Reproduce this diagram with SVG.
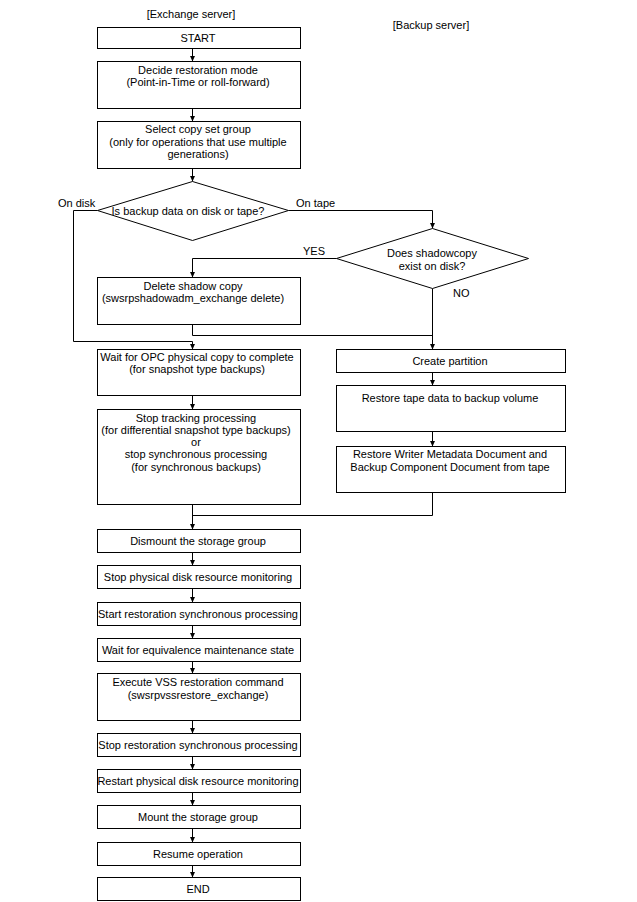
<svg xmlns="http://www.w3.org/2000/svg" width="637" height="902" viewBox="0 0 637 902">
<style>
.box{fill:#fff;stroke:#000;stroke-width:1}
.t{font-family:"Liberation Sans",Arial,sans-serif;font-size:11px;fill:#000;text-anchor:middle}
.ts{font-family:"Liberation Sans",Arial,sans-serif;font-size:11px;fill:#000}
.c{fill:none;stroke:#000;stroke-width:1}
.a{marker-end:url(#arr)}
</style>
<defs>
<marker id="arr" markerUnits="userSpaceOnUse" markerWidth="6" markerHeight="6" viewBox="0 0 6 6" refX="6" refY="3" orient="auto">
<path d="M0,0.3 L6,3 L0,5.7 z" fill="#000"/>
</marker>
</defs>
<rect width="637" height="902" fill="#fff"/>
<text class="t" x="191" y="18">[Exchange server]</text>
<text class="t" x="431" y="29">[Backup server]</text>

<g id="connectors">
<path class="c a" d="M192.5,48.5 V61.5"/>
<path class="c a" d="M192.5,108.5 V121.5"/>
<path class="c a" d="M192.5,168.5 V181.5"/>
<path class="c a" d="M97.5,210.5 H73.5 V341.5 H192.5 V349.5"/>
<path class="c a" d="M288.5,210.5 H432.5 V228.5"/>
<path class="c a" d="M336.5,258.5 H192.5 V277.5"/>
<path class="c" d="M192.5,324.5 V335.5 H432.5"/>
<path class="c a" d="M432.5,288.5 V349.5"/>
<path class="c a" d="M192.5,395.5 V409.5"/>
<path class="c a" d="M432.5,372.5 V385.5"/>
<path class="c a" d="M432.5,431.5 V446.5"/>
<path class="c" d="M432.5,492.5 V515.5 H192.5"/>
<path class="c a" d="M192.5,504.5 V529.5"/>
<path class="c a" d="M192.5,552.5 V565.5"/>
<path class="c a" d="M192.5,588.5 V602.5"/>
<path class="c a" d="M192.5,625.5 V638.5"/>
<path class="c a" d="M192.5,661.5 V673.5"/>
<path class="c a" d="M192.5,720.5 V733.5"/>
<path class="c a" d="M192.5,756.5 V769.5"/>
<path class="c a" d="M192.5,792.5 V805.5"/>
<path class="c a" d="M192.5,828.5 V842.5"/>
<path class="c a" d="M192.5,865.5 V877.5"/>
<text class="ts" x="58" y="207">On disk</text>
<text class="ts" x="296" y="207">On tape</text>
<text class="ts" x="303" y="255">YES</text>
<text class="ts" x="453" y="297">NO</text>
</g>

<g id="start"><rect class="box" x="97.5" y="27.5" width="203" height="21"/><text class="t" x="198" y="42">START</text></g>
<g id="decide"><rect class="box" x="97.5" y="61.5" width="203" height="47"/><text class="t" x="198" y="74">Decide restoration mode</text><text class="t" x="198" y="86">(Point-in-Time or roll-forward)</text></g>
<g id="select"><rect class="box" x="97.5" y="121.5" width="203" height="47"/><text class="t" x="198" y="133">Select copy set group</text><text class="t" x="198" y="146">(only for operations that use multiple</text><text class="t" x="198" y="158">generations)</text></g>
<g id="diskortape"><polygon class="box" points="192.5,181.5 288.5,210.5 192.5,240.5 97.5,210.5"/><text class="t" x="188" y="215">Is backup data on disk or tape?</text></g>
<g id="shadowexist"><polygon class="box" points="432.5,228.5 528.5,258.5 432.5,288.5 336.5,258.5"/><text class="t" x="432" y="257">Does shadowcopy</text><text class="t" x="432" y="270">exist on disk?</text></g>
<g id="delete"><rect class="box" x="97.5" y="277.5" width="203" height="47"/><text class="t" x="193" y="290">Delete shadow copy</text><text class="t" x="193" y="302">(swsrpshadowadm_exchange delete)</text></g>
<g id="waitopc"><rect class="box" x="97.5" y="349.5" width="203" height="46"/><text class="t" x="197" y="361">Wait for OPC physical copy to complete</text><text class="t" x="197" y="373">(for snapshot type backups)</text></g>
<g id="stoptracking"><rect class="box" x="97.5" y="409.5" width="203" height="95"/><text class="t" x="196" y="422">Stop tracking processing</text><text class="t" x="196" y="434">(for differential snapshot type backups)</text><text class="t" x="196" y="446">or</text><text class="t" x="196" y="458">stop synchronous processing</text><text class="t" x="196" y="471">(for synchronous backups)</text></g>
<g id="createpartition"><rect class="box" x="336.5" y="349.5" width="229" height="23"/><text class="t" x="450" y="365">Create partition</text></g>
<g id="restoretape"><rect class="box" x="336.5" y="385.5" width="229" height="46"/><text class="t" x="450" y="402">Restore tape data to backup volume</text></g>
<g id="restorewriter"><rect class="box" x="336.5" y="446.5" width="229" height="46"/><text class="t" x="450" y="458">Restore Writer Metadata Document and</text><text class="t" x="450" y="471">Backup Component Document from tape</text></g>
<g id="dismount"><rect class="box" x="97.5" y="529.5" width="203" height="23"/><text class="t" x="198" y="545">Dismount the storage group</text></g>
<g id="stopmonitor"><rect class="box" x="97.5" y="565.5" width="203" height="23"/><text class="t" x="198" y="581">Stop physical disk resource monitoring</text></g>
<g id="startsync"><rect class="box" x="97.5" y="602.5" width="203" height="23"/><text class="t" x="198" y="618">Start restoration synchronous processing</text></g>
<g id="waitequiv"><rect class="box" x="97.5" y="638.5" width="203" height="23"/><text class="t" x="198" y="654">Wait for equivalence maintenance state</text></g>
<g id="execute"><rect class="box" x="97.5" y="673.5" width="203" height="47"/><text class="t" x="198" y="686">Execute VSS restoration command</text><text class="t" x="198" y="699">(swsrpvssrestore_exchange)</text></g>
<g id="stopsync"><rect class="box" x="97.5" y="733.5" width="203" height="23"/><text class="t" x="198" y="749">Stop restoration synchronous processing</text></g>
<g id="restartmonitor"><rect class="box" x="97.5" y="769.5" width="203" height="23"/><text class="t" x="198" y="785">Restart physical disk resource monitoring</text></g>
<g id="mount"><rect class="box" x="97.5" y="805.5" width="203" height="23"/><text class="t" x="198" y="821">Mount the storage group</text></g>
<g id="resume"><rect class="box" x="97.5" y="842.5" width="203" height="23"/><text class="t" x="198" y="858">Resume operation</text></g>
<g id="end"><rect class="box" x="97.5" y="877.5" width="203" height="23"/><text class="t" x="198" y="893">END</text></g>
</svg>
